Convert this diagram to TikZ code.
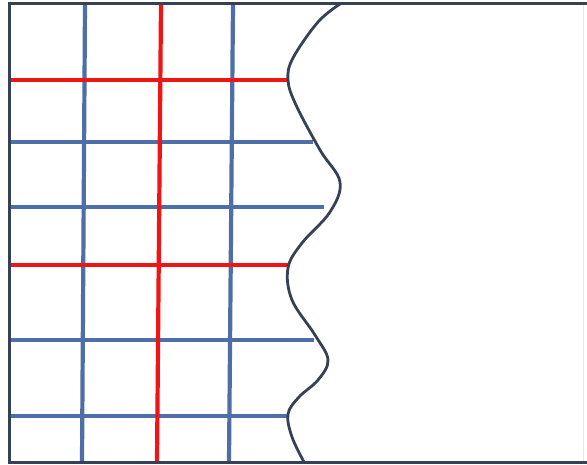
\documentclass[tikz,border=0pt]{standalone}
\usepackage{tikz}
\definecolor{gridblue}{RGB}{78,110,170}
\definecolor{gridred}{RGB}{240,20,20}
\definecolor{framegray}{RGB}{55,65,85}

\begin{document}
\begin{tikzpicture}[x=1pt,y=-1pt]
  \useasboundingbox (0,0) rectangle (587,465);
  % blue grid lines
  \foreach \y/\xe in {142/313,207/324,340/314,416/288}
    \draw[line width=4.2pt,gridblue] (9,\y) -- (\xe,\y);
  \foreach \xa/\xb in {85/82,233/229}
    \draw[line width=4.2pt,gridblue] (\xa,4) -- (\xb,462);
  % red grid lines
  \foreach \y/\xe in {80/289,265/289}
    \draw[line width=4.2pt,gridred] (9,\y) -- (\xe,\y);
  \draw[line width=4.2pt,gridred] (161,4) -- (157,462);
  % frame
  \draw[line width=1pt,gridblue!15] (583,4) -- (583,462);
  \draw[line width=3pt,framegray] (587,4) -- (9,4) -- (9,462) -- (587,462);
  % wavy cut
  \draw[line width=2.8pt,framegray] plot[smooth,tension=0.6] coordinates {
    (340,4) (318,22) (293,58) (288,80) (296,105) (320,150) (340,182)
    (330,212) (302,243) (288,268) (292,300) (315,335) (328,360)
    (318,380) (299,397) (288,414) (292,437) (304,462)};
\end{tikzpicture}
\end{document}
